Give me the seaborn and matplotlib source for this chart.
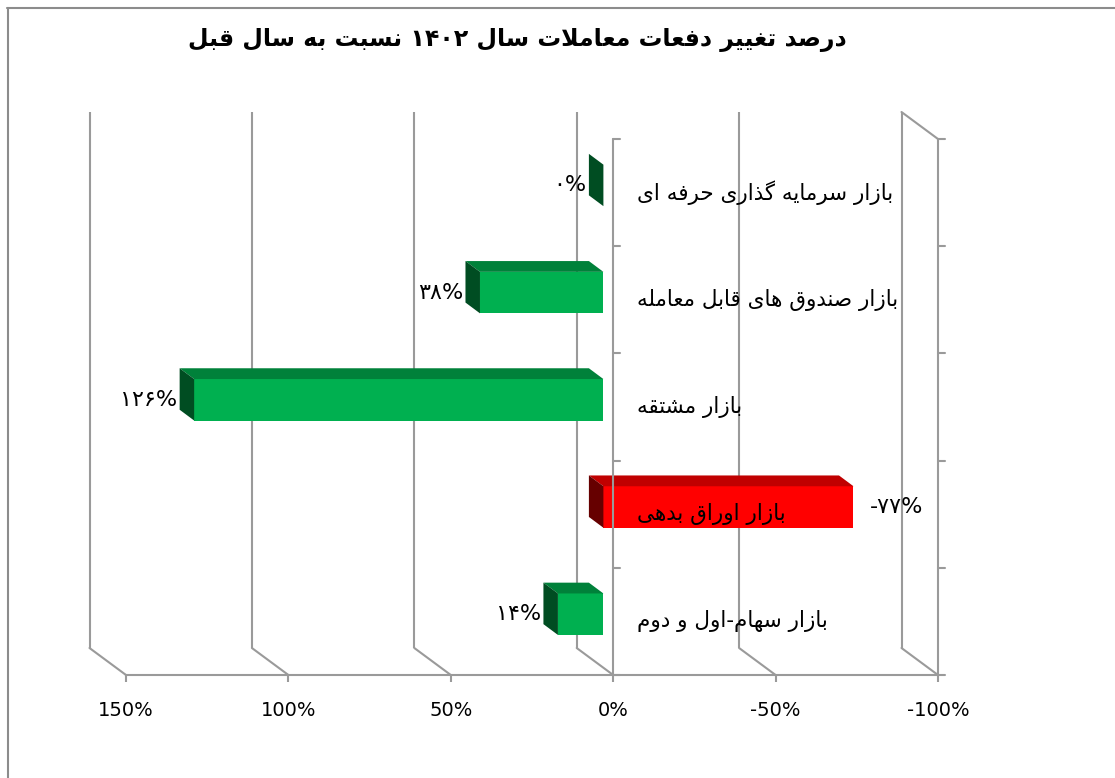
import re
import numpy as np
import pandas as pd
import matplotlib
matplotlib.use("Agg")
import matplotlib.pyplot as plt
import seaborn as sns
from matplotlib.patches import Polygon
from matplotlib.lines import Line2D

# ---------------- data ----------------
categories = [
    "بازار سرمایه گذاری حرفه ای",
    "بازار صندوق های قابل معامله",
    "بازار مشتقه",
    "بازار اوراق بدهی",
    "بازار سهام-اول و دوم",
]
values = [0, 38, 126, -77, 14]
x_ticks = [150, 100, 50, 0, -50, -100]
x_tick_labels = ["150%", "100%", "50%", "0%", "-50%", "-100%"]
title = "درصد تغییر دفعات معاملات سال ۱۴۰۲ نسبت به سال قبل"

# ------------- minimal Arabic/Persian shaping -------------
FORMS = {
    "\u0627": (0xFE8D, 0xFE8E, None, None),
    "\u0628": (0xFE8F, 0xFE90, 0xFE91, 0xFE92),
    "\u062A": (0xFE95, 0xFE96, 0xFE97, 0xFE98),
    "\u062B": (0xFE99, 0xFE9A, 0xFE9B, 0xFE9C),
    "\u062C": (0xFE9D, 0xFE9E, 0xFE9F, 0xFEA0),
    "\u062D": (0xFEA1, 0xFEA2, 0xFEA3, 0xFEA4),
    "\u062E": (0xFEA5, 0xFEA6, 0xFEA7, 0xFEA8),
    "\u062F": (0xFEA9, 0xFEAA, None, None),
    "\u0630": (0xFEAB, 0xFEAC, None, None),
    "\u0631": (0xFEAD, 0xFEAE, None, None),
    "\u0632": (0xFEAF, 0xFEB0, None, None),
    "\u0633": (0xFEB1, 0xFEB2, 0xFEB3, 0xFEB4),
    "\u0634": (0xFEB5, 0xFEB6, 0xFEB7, 0xFEB8),
    "\u0635": (0xFEB9, 0xFEBA, 0xFEBB, 0xFEBC),
    "\u0636": (0xFEBD, 0xFEBE, 0xFEBF, 0xFEC0),
    "\u0637": (0xFEC1, 0xFEC2, 0xFEC3, 0xFEC4),
    "\u0638": (0xFEC5, 0xFEC6, 0xFEC7, 0xFEC8),
    "\u0639": (0xFEC9, 0xFECA, 0xFECB, 0xFECC),
    "\u063A": (0xFECD, 0xFECE, 0xFECF, 0xFED0),
    "\u0641": (0xFED1, 0xFED2, 0xFED3, 0xFED4),
    "\u0642": (0xFED5, 0xFED6, 0xFED7, 0xFED8),
    "\u0644": (0xFEDD, 0xFEDE, 0xFEDF, 0xFEE0),
    "\u0645": (0xFEE1, 0xFEE2, 0xFEE3, 0xFEE4),
    "\u0646": (0xFEE5, 0xFEE6, 0xFEE7, 0xFEE8),
    "\u0647": (0xFEE9, 0xFEEA, 0xFEEB, 0xFEEC),
    "\u0648": (0xFEED, 0xFEEE, None, None),
    "\u064A": (0xFEF1, 0xFEF2, 0xFEF3, 0xFEF4),
    "\u06CC": (0xFBFC, 0xFBFD, 0xFBFE, 0xFBFF),
    "\u06AF": (0xFB92, 0xFB93, 0xFB94, 0xFB95),
}


def shape(text):
    out = []
    i = 0
    n = len(text)
    prev_join = False
    while i < n:
        c = text[i]
        if c not in FORMS:
            out.append(c)
            prev_join = False
            i += 1
            continue
        if c == "\u0644" and i + 1 < n and text[i + 1] == "\u0627":
            out.append(chr(0xFEFC if prev_join else 0xFEFB))
            prev_join = False
            i += 2
            continue
        nxt = text[i + 1] if i + 1 < n else None
        iso, fin, ini, med = FORMS[c]
        can_next = ini is not None and nxt in FORMS
        if prev_join and can_next:
            g = med
        elif prev_join:
            g = fin
        elif can_next:
            g = ini
        else:
            g = iso
        out.append(chr(g))
        prev_join = can_next
        i += 1
    s = "".join(out)[::-1]
    s = re.sub(r"[0-9\u06F0-\u06F9\u0660-\u0669]+", lambda m: m.group(0)[::-1], s)
    return s


def fa_digits(s):
    return s.translate(str.maketrans("0123456789", "۰۱۲۳۴۵۶۷۸۹"))


# ---------------- figure ----------------
sns.set_theme(style="white")
plt.rcParams["font.family"] = ["DejaVu Sans"]
plt.rcParams["text.color"] = "black"
plt.rcParams["xtick.color"] = "black"
plt.rcParams["axes.labelcolor"] = "black"

fig = plt.figure(figsize=(11.15, 7.78), dpi=100)
ax = fig.add_axes([126 / 1115, 103 / 778, 812 / 1115, 536 / 778])

df = pd.DataFrame({"cat": categories, "val": values})
front_cols = ["#00B050" if v >= 0 else "#FF0000" for v in values]
sns.barplot(data=df, x="val", y="cat", hue="cat", palette=front_cols,
            orient="h", width=0.387, saturation=1, legend=False, ax=ax,
            zorder=3, linewidth=0)
ax.set_xlim(150, -100)
ax.set_ylim(4.5, -0.5)

p0 = ax.transData.transform((0, 0))
p1 = ax.transData.transform((1, 1))
sx = p1[0] - p0[0]
sy = p1[1] - p0[1]


def off(dx_px, dy_up_px):
    return dx_px / sx, dy_up_px / sy


F = off(-9.8, 7.2)
B = off(-24.3, 18.0)
W = off(-36.5, 27.0)

grid_col = "#9a9a9a"
glw = 1.5

# back wall gridlines and floor diagonals
for t in x_ticks:
    ax.plot([t + W[0], t + W[0]], [-0.5 + W[1], 4.5 + W[1]], color=grid_col,
            lw=glw, clip_on=False, zorder=1, solid_capstyle="butt")
    ax.plot([t + W[0], t], [4.5 + W[1], 4.5], color=grid_col, lw=glw,
            clip_on=False, zorder=1)
# right side wall
ax.plot([x_ticks[-1], x_ticks[-1]], [-0.5, 4.5], color=grid_col, lw=glw,
        clip_on=False, zorder=1)
ax.plot([x_ticks[-1] + W[0], x_ticks[-1]], [-0.5 + W[1], -0.5], color=grid_col,
        lw=glw, clip_on=False, zorder=1)

# category ticks on 0 line and right wall
tk = off(7, 0)[0]
for b in np.arange(-0.5, len(categories), 1.0):
    ax.plot([0, tk], [b, b], color=grid_col, lw=glw, clip_on=False, zorder=5)
    ax.plot([x_ticks[-1], x_ticks[-1] + tk], [b, b], color=grid_col, lw=glw,
            clip_on=False, zorder=5)
ax.plot([0, 0], [-0.5, 4.5], color=grid_col, lw=glw, clip_on=False, zorder=5)

# 3D faces
top_cols = {True: "#00813A", False: "#C00000"}
side_cols = {True: "#004D22", False: "#660000"}
lab_off_pos = off(-2.5, 0)[0]
lab_off_neg = off(16, 0)[0]
for patch in ax.patches:
    yc = patch.get_y() + patch.get_height() / 2
    idx = int(round(yc))
    v = values[idx]
    h = patch.get_height()
    yt, yb = yc - h / 2, yc + h / 2
    xl, xr = max(0, v), min(0, v)
    pos = v >= 0
    patch.set_x(patch.get_x() + F[0])
    patch.set_y(patch.get_y() + F[1])
    patch.set_clip_on(False)
    top = Polygon([(xl + F[0], yt + F[1]), (xr + F[0], yt + F[1]),
                   (xr + B[0], yt + B[1]), (xl + B[0], yt + B[1])],
                  closed=True, facecolor=top_cols[pos], edgecolor="none",
                  zorder=3, clip_on=False)
    side = Polygon([(xl + F[0], yt + F[1]), (xl + F[0], yb + F[1]),
                    (xl + B[0], yb + B[1]), (xl + B[0], yt + B[1])],
                   closed=True, facecolor=side_cols[pos], edgecolor="none",
                   zorder=3, clip_on=False)
    ax.add_patch(top)
    ax.add_patch(side)
    lab = ("-" if v < 0 else "") + fa_digits(str(abs(v))) + "%"
    if pos:
        ax.text(xl + B[0] + lab_off_pos, yc + F[1], lab, ha="right",
                va="center", fontsize=16, zorder=6, color="black")
    else:
        ax.text(xr + F[0] + lab_off_neg, yc + F[1], lab, ha="left",
                va="center", fontsize=16, zorder=6, color="black")

# category labels
cx = off(23.5, 0)[0]
for i, c in enumerate(categories):
    ax.text(cx, i, shape(c), ha="left", va="center", fontsize=15.5, zorder=6,
            color="black")

# axes styling
for s in ["top", "left", "right"]:
    ax.spines[s].set_visible(False)
ax.spines["bottom"].set_color(grid_col)
ax.spines["bottom"].set_linewidth(glw)
ax.set_xticks(x_ticks)
ax.set_xticklabels(x_tick_labels)
ax.tick_params(axis="x", bottom=True, length=5, width=glw, color=grid_col,
               labelsize=14, pad=14, labelcolor="black")
ax.set_yticks([])
ax.set_xlabel("")
ax.set_ylabel("")
ax.grid(False)

fig.text(517.5 / 1115, 1 - 40 / 778, shape(title), ha="center", va="center",
         fontsize=17, fontweight="bold", color="black")

fig.add_artist(Line2D([7 / 1115, 1], [1 - 8 / 778] * 2, transform=fig.transFigure,
                      color="#8c8c8c", lw=1.5))
fig.add_artist(Line2D([8 / 1115] * 2, [0, 1 - 8 / 778], transform=fig.transFigure,
                      color="#8c8c8c", lw=1.5))

fig.savefig("out.png", dpi=100, facecolor="white")
